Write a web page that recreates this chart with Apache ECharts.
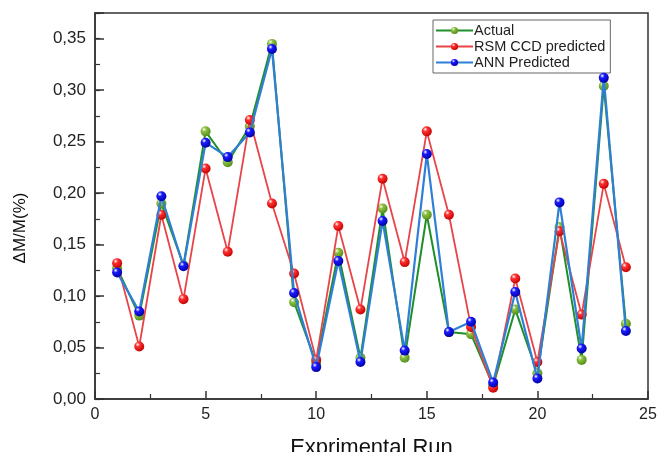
<!DOCTYPE html>
<html>
<head>
<meta charset="utf-8">
<script src="https://cdn.jsdelivr.net/npm/echarts@6/dist/echarts.min.js"></script>
<style>html,body{margin:0;padding:0;background:#fff;}#c{width:658px;height:452px;}</style>
</head>
<body>
<div id="c"></div>
<script>
var runs = [1,2,3,4,5,6,7,8,9,10,11,12,13,14,15,16,17,18,19,20,21,22,23,24];
var actual = [0.127,0.081,0.190,0.130,0.260,0.230,0.265,0.345,0.094,0.035,0.142,0.040,0.185,0.040,0.179,0.065,0.063,0.013,0.087,0.025,0.167,0.038,0.304,0.073];
var rsm    = [0.132,0.051,0.179,0.097,0.224,0.143,0.271,0.190,0.122,0.038,0.168,0.087,0.214,0.133,0.260,0.179,0.070,0.011,0.117,0.036,0.163,0.082,0.209,0.128];
var ann    = [0.123,0.085,0.197,0.129,0.249,0.235,0.259,0.340,0.103,0.031,0.134,0.036,0.173,0.047,0.238,0.065,0.075,0.016,0.104,0.020,0.191,0.049,0.312,0.066];
var seriesNames = ['Actual','RSM CCD predicted','ANN Predicted'];

function pairs(v){ return runs.map(function(r,i){ return [r, v[i]]; }); }
function ball(c1, c2){
  return {type:'radial', x:0.35, y:0.3, r:0.75, colorStops:[
    {offset:0, color:'#ffffff'}, {offset:0.3, color:c1}, {offset:1, color:c2}]};
}
function fmt(v){ return v.toFixed(2).replace('.', ','); }

var chart = echarts.init(document.getElementById('c'), null, {renderer:'canvas'});
var font = 'Arial, "Liberation Sans", sans-serif';
chart.setOption({
  animation:false,
  grid:{left:95, right:10, top:13, bottom:53, show:true, borderColor:'#333', borderWidth:1.5, backgroundColor:'transparent',
    containLabel:false, outerBoundsMode:'none'},
  legend:{
    orient:'vertical', left:433, top:20, itemWidth:37, itemHeight:9, itemGap:1,
    padding:[3,5,3,2], borderColor:'#666', borderWidth:1, borderRadius:0,
    textStyle:{fontFamily:font, fontSize:14.5, color:'#222', padding:[0,0,0,-4], lineHeight:15},
    data:seriesNames
  },
  xAxis:{
    type:'value', min:0, max:25, interval:5,
    name:'Exprimental Run', nameLocation:'middle', nameGap:38,
    nameTextStyle:{fontFamily:font, fontSize:22, color:'#111'},
    axisLine:{show:true, lineStyle:{color:'#333', width:1.5}},
    axisTick:{show:true, inside:true, length:8, lineStyle:{color:'#333', width:1.5}},
    minorTick:{show:true, splitNumber:2, length:5, lineStyle:{color:'#333', width:1.2}},
    axisLabel:{fontFamily:font, fontSize:16, color:'#222', margin:8},
    splitLine:{show:false}
  },
  yAxis:[{
    type:'value', min:0, max:0.375, interval:0.025, position:'left',
    name:'ΔM/M(%)', nameLocation:'middle', nameGap:66,
    nameTextStyle:{fontFamily:font, fontSize:17, color:'#111', padding:[0,44,0,0]},
    axisLine:{show:true, lineStyle:{color:'#333', width:1.5}},
    axisTick:{show:true, inside:true, length:5, lineStyle:{color:'#333', width:1.2}},
    axisLabel:{fontFamily:font, fontSize:17, color:'#222', margin:9,
      formatter:function(v){ var k = Math.round(v/0.025); return (k % 2 === 0 && k <= 14) ? fmt(v) : ''; }},
    splitLine:{show:false}
  },{
    type:'value', min:0, max:0.375, interval:0.05, position:'left',
    axisLine:{show:false},
    axisTick:{show:true, inside:true, length:9, lineStyle:{color:'#333', width:1.5}},
    axisLabel:{show:false},
    splitLine:{show:false}
  }],
  series:[
    {name:seriesNames[0], type:'line', data:pairs(actual), symbol:'circle', symbolSize:10, z:2,
      lineStyle:{color:'#1f8f28', width:2}, itemStyle:{color:ball('#8cc040','#4f8a1a')}},
    {name:seriesNames[1], type:'line', data:pairs(rsm), symbol:'circle', symbolSize:10, z:3,
      lineStyle:{color:'#e84448', width:1.8}, itemStyle:{color:ball('#ff3030','#c00000')}},
    {name:seriesNames[2], type:'line', data:pairs(ann), symbol:'circle', symbolSize:10, z:4,
      lineStyle:{color:'#2f7fd6', width:2.2}, itemStyle:{color:ball('#1a1aff','#0000a0')}}
  ]
});
</script>
</body>
</html>
